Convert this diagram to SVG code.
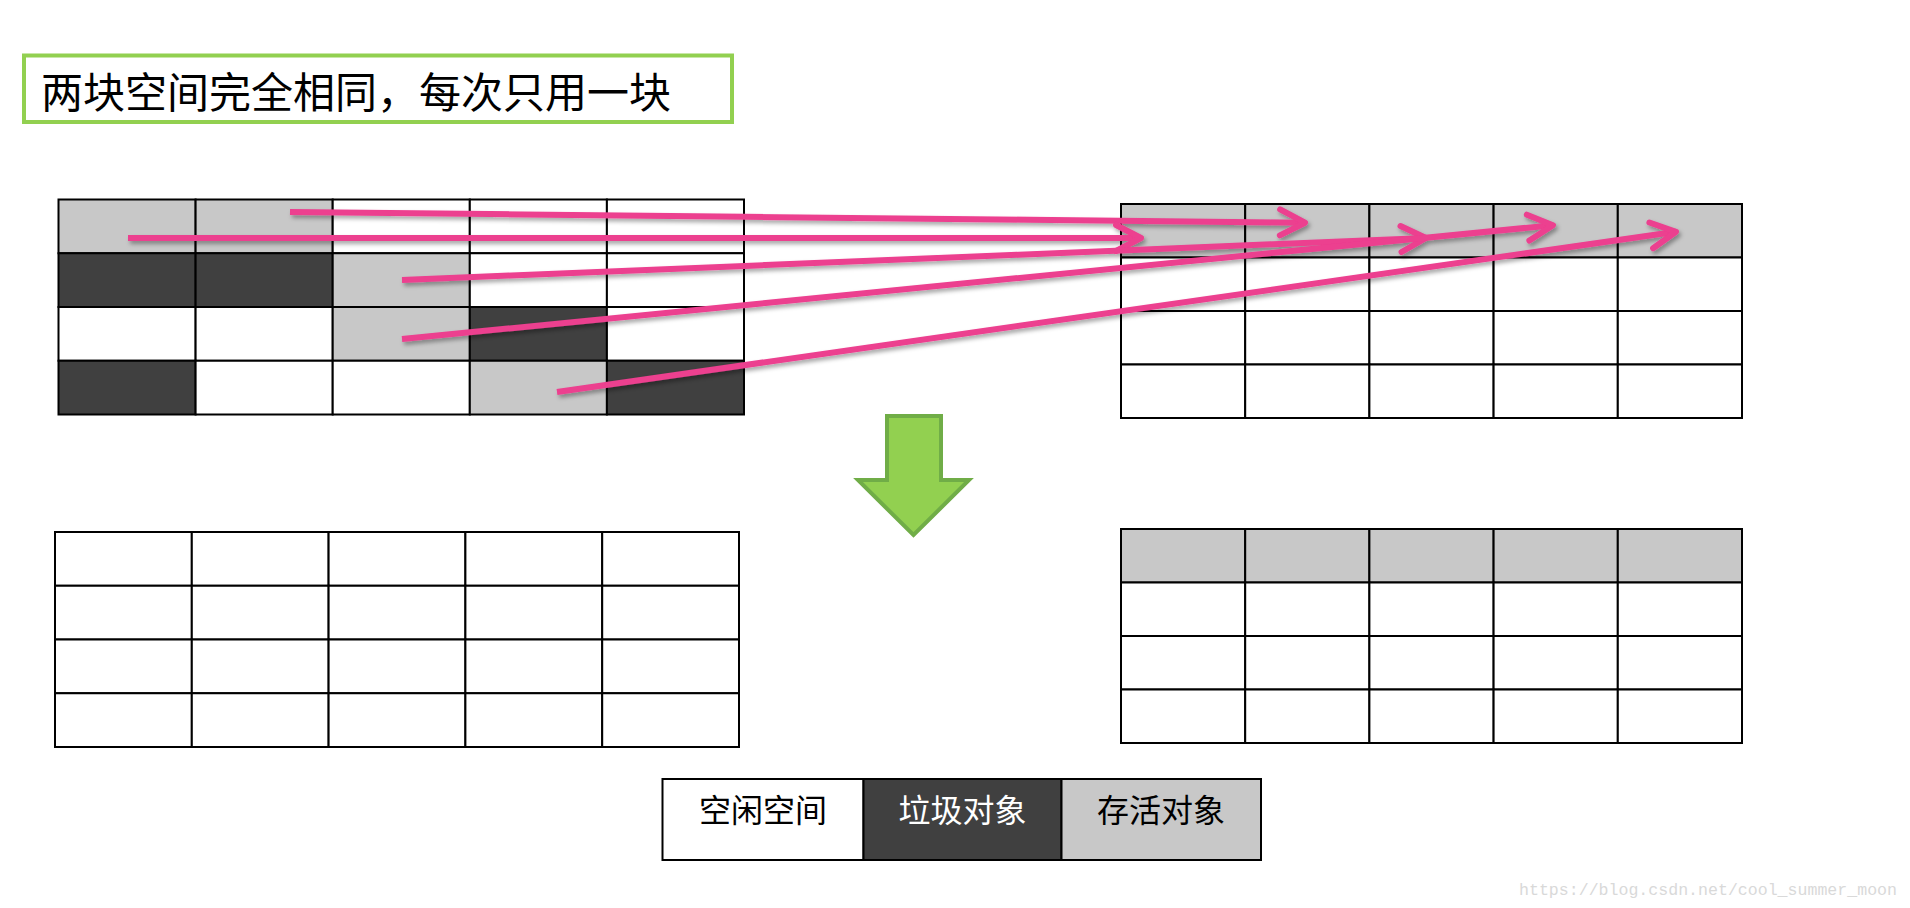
<svg xmlns="http://www.w3.org/2000/svg" width="1910" height="908" viewBox="0 0 1910 908">
  <style>
    .cell { stroke: #000; stroke-width: 2; }
    .w { fill: #ffffff; }
    .g { fill: #c8c8c8; }
    .d { fill: #404040; }
    .arrow { stroke: #ec3f8f; stroke-width: 6; fill: none; marker-end: url(#chev); }
    .cjk { font-family: "Noto Sans CJK SC", "Noto Sans", sans-serif; }
  </style>
  <defs>
    <filter id="shadow" x="-5%" y="-50%" width="110%" height="200%">
      <feDropShadow dx="2" dy="3" stdDeviation="2" flood-color="#000" flood-opacity="0.35"/>
    </filter>
    <marker id="chev" viewBox="-32 -18 38 36" refX="0" refY="0" markerWidth="38" markerHeight="36" markerUnits="userSpaceOnUse" orient="auto">
      <path d="M -25 -13 L 0 0 L -25 13" fill="none" stroke="#ec3f8f" stroke-width="6" stroke-linejoin="round" stroke-linecap="round"/>
    </marker>
  </defs>
  <rect x="0" y="0" width="1910" height="908" fill="#ffffff"/>

  <g id="title">
    <rect x="24" y="55.5" width="708" height="66.5" fill="#ffffff" stroke="#92d050" stroke-width="4"/>
    <text class="cjk" x="41" y="108" font-size="42" fill="#000">两块空间完全相同，每次只用一块</text>
  </g>

  <g id="from-space">
    <rect class="cell g" x="58.5" y="199.5" width="137.1" height="53.75"/>
    <rect class="cell g" x="195.6" y="199.5" width="137.1" height="53.75"/>
    <rect class="cell w" x="332.7" y="199.5" width="137.1" height="53.75"/>
    <rect class="cell w" x="469.8" y="199.5" width="137.1" height="53.75"/>
    <rect class="cell w" x="606.9" y="199.5" width="137.1" height="53.75"/>
    <rect class="cell d" x="58.5" y="253.25" width="137.1" height="53.75"/>
    <rect class="cell d" x="195.6" y="253.25" width="137.1" height="53.75"/>
    <rect class="cell g" x="332.7" y="253.25" width="137.1" height="53.75"/>
    <rect class="cell w" x="469.8" y="253.25" width="137.1" height="53.75"/>
    <rect class="cell w" x="606.9" y="253.25" width="137.1" height="53.75"/>
    <rect class="cell w" x="58.5" y="307" width="137.1" height="53.75"/>
    <rect class="cell w" x="195.6" y="307" width="137.1" height="53.75"/>
    <rect class="cell g" x="332.7" y="307" width="137.1" height="53.75"/>
    <rect class="cell d" x="469.8" y="307" width="137.1" height="53.75"/>
    <rect class="cell w" x="606.9" y="307" width="137.1" height="53.75"/>
    <rect class="cell d" x="58.5" y="360.75" width="137.1" height="53.75"/>
    <rect class="cell w" x="195.6" y="360.75" width="137.1" height="53.75"/>
    <rect class="cell w" x="332.7" y="360.75" width="137.1" height="53.75"/>
    <rect class="cell g" x="469.8" y="360.75" width="137.1" height="53.75"/>
    <rect class="cell d" x="606.9" y="360.75" width="137.1" height="53.75"/>
  </g>

  <g id="to-space">
    <rect class="cell g" x="1121" y="204" width="124.2" height="53.5"/>
    <rect class="cell g" x="1245.2" y="204" width="124.2" height="53.5"/>
    <rect class="cell g" x="1369.4" y="204" width="124.2" height="53.5"/>
    <rect class="cell g" x="1493.6" y="204" width="124.2" height="53.5"/>
    <rect class="cell g" x="1617.8" y="204" width="124.2" height="53.5"/>
    <rect class="cell w" x="1121" y="257.5" width="124.2" height="53.5"/>
    <rect class="cell w" x="1245.2" y="257.5" width="124.2" height="53.5"/>
    <rect class="cell w" x="1369.4" y="257.5" width="124.2" height="53.5"/>
    <rect class="cell w" x="1493.6" y="257.5" width="124.2" height="53.5"/>
    <rect class="cell w" x="1617.8" y="257.5" width="124.2" height="53.5"/>
    <rect class="cell w" x="1121" y="311" width="124.2" height="53.5"/>
    <rect class="cell w" x="1245.2" y="311" width="124.2" height="53.5"/>
    <rect class="cell w" x="1369.4" y="311" width="124.2" height="53.5"/>
    <rect class="cell w" x="1493.6" y="311" width="124.2" height="53.5"/>
    <rect class="cell w" x="1617.8" y="311" width="124.2" height="53.5"/>
    <rect class="cell w" x="1121" y="364.5" width="124.2" height="53.5"/>
    <rect class="cell w" x="1245.2" y="364.5" width="124.2" height="53.5"/>
    <rect class="cell w" x="1369.4" y="364.5" width="124.2" height="53.5"/>
    <rect class="cell w" x="1493.6" y="364.5" width="124.2" height="53.5"/>
    <rect class="cell w" x="1617.8" y="364.5" width="124.2" height="53.5"/>
  </g>

  <g id="connectors" filter="url(#shadow)">
    <line class="arrow" x1="290" y1="212" x2="1305" y2="222.7"/>
    <line class="arrow" x1="128" y1="238" x2="1141" y2="238"/>
    <line class="arrow" x1="402" y1="280" x2="1426" y2="238"/>
    <line class="arrow" x1="402" y1="339" x2="1553" y2="225.2"/>
    <line class="arrow" x1="557" y1="392" x2="1676" y2="231.8"/>
  </g>

  <g id="down-arrow">
    <polygon points="887,416 941,416 941,480 969,480 913.5,535 858,480 887,480" fill="#92d050" stroke="#70ad47" stroke-width="4"/>
  </g>

  <g id="from-space-after">
    <rect class="cell w" x="55" y="532" width="136.8" height="53.75"/>
    <rect class="cell w" x="191.8" y="532" width="136.8" height="53.75"/>
    <rect class="cell w" x="328.6" y="532" width="136.8" height="53.75"/>
    <rect class="cell w" x="465.4" y="532" width="136.8" height="53.75"/>
    <rect class="cell w" x="602.2" y="532" width="136.8" height="53.75"/>
    <rect class="cell w" x="55" y="585.75" width="136.8" height="53.75"/>
    <rect class="cell w" x="191.8" y="585.75" width="136.8" height="53.75"/>
    <rect class="cell w" x="328.6" y="585.75" width="136.8" height="53.75"/>
    <rect class="cell w" x="465.4" y="585.75" width="136.8" height="53.75"/>
    <rect class="cell w" x="602.2" y="585.75" width="136.8" height="53.75"/>
    <rect class="cell w" x="55" y="639.5" width="136.8" height="53.75"/>
    <rect class="cell w" x="191.8" y="639.5" width="136.8" height="53.75"/>
    <rect class="cell w" x="328.6" y="639.5" width="136.8" height="53.75"/>
    <rect class="cell w" x="465.4" y="639.5" width="136.8" height="53.75"/>
    <rect class="cell w" x="602.2" y="639.5" width="136.8" height="53.75"/>
    <rect class="cell w" x="55" y="693.25" width="136.8" height="53.75"/>
    <rect class="cell w" x="191.8" y="693.25" width="136.8" height="53.75"/>
    <rect class="cell w" x="328.6" y="693.25" width="136.8" height="53.75"/>
    <rect class="cell w" x="465.4" y="693.25" width="136.8" height="53.75"/>
    <rect class="cell w" x="602.2" y="693.25" width="136.8" height="53.75"/>
  </g>

  <g id="to-space-after">
    <rect class="cell g" x="1121" y="529" width="124.2" height="53.5"/>
    <rect class="cell g" x="1245.2" y="529" width="124.2" height="53.5"/>
    <rect class="cell g" x="1369.4" y="529" width="124.2" height="53.5"/>
    <rect class="cell g" x="1493.6" y="529" width="124.2" height="53.5"/>
    <rect class="cell g" x="1617.8" y="529" width="124.2" height="53.5"/>
    <rect class="cell w" x="1121" y="582.5" width="124.2" height="53.5"/>
    <rect class="cell w" x="1245.2" y="582.5" width="124.2" height="53.5"/>
    <rect class="cell w" x="1369.4" y="582.5" width="124.2" height="53.5"/>
    <rect class="cell w" x="1493.6" y="582.5" width="124.2" height="53.5"/>
    <rect class="cell w" x="1617.8" y="582.5" width="124.2" height="53.5"/>
    <rect class="cell w" x="1121" y="636" width="124.2" height="53.5"/>
    <rect class="cell w" x="1245.2" y="636" width="124.2" height="53.5"/>
    <rect class="cell w" x="1369.4" y="636" width="124.2" height="53.5"/>
    <rect class="cell w" x="1493.6" y="636" width="124.2" height="53.5"/>
    <rect class="cell w" x="1617.8" y="636" width="124.2" height="53.5"/>
    <rect class="cell w" x="1121" y="689.5" width="124.2" height="53.5"/>
    <rect class="cell w" x="1245.2" y="689.5" width="124.2" height="53.5"/>
    <rect class="cell w" x="1369.4" y="689.5" width="124.2" height="53.5"/>
    <rect class="cell w" x="1493.6" y="689.5" width="124.2" height="53.5"/>
    <rect class="cell w" x="1617.8" y="689.5" width="124.2" height="53.5"/>
  </g>

  <g id="legend">
    <rect class="cell w" x="662.5" y="779" width="201" height="81"/>
    <rect class="cell d" x="863.5" y="779" width="198" height="81"/>
    <rect class="cell g" x="1061.5" y="779" width="199.5" height="81"/>
    <text class="cjk" x="763" y="822" font-size="32" text-anchor="middle" fill="#000">空闲空间</text>
    <text class="cjk" x="962.5" y="822" font-size="32" text-anchor="middle" fill="#fff">垃圾对象</text>
    <text class="cjk" x="1161" y="822" font-size="32" text-anchor="middle" fill="#000">存活对象</text>
  </g>

  <text x="1519" y="895" font-family="Liberation Mono, monospace" font-size="16.6" fill="#d9d9d9" textLength="378">https://blog.csdn.net/cool_summer_moon</text>
</svg>
